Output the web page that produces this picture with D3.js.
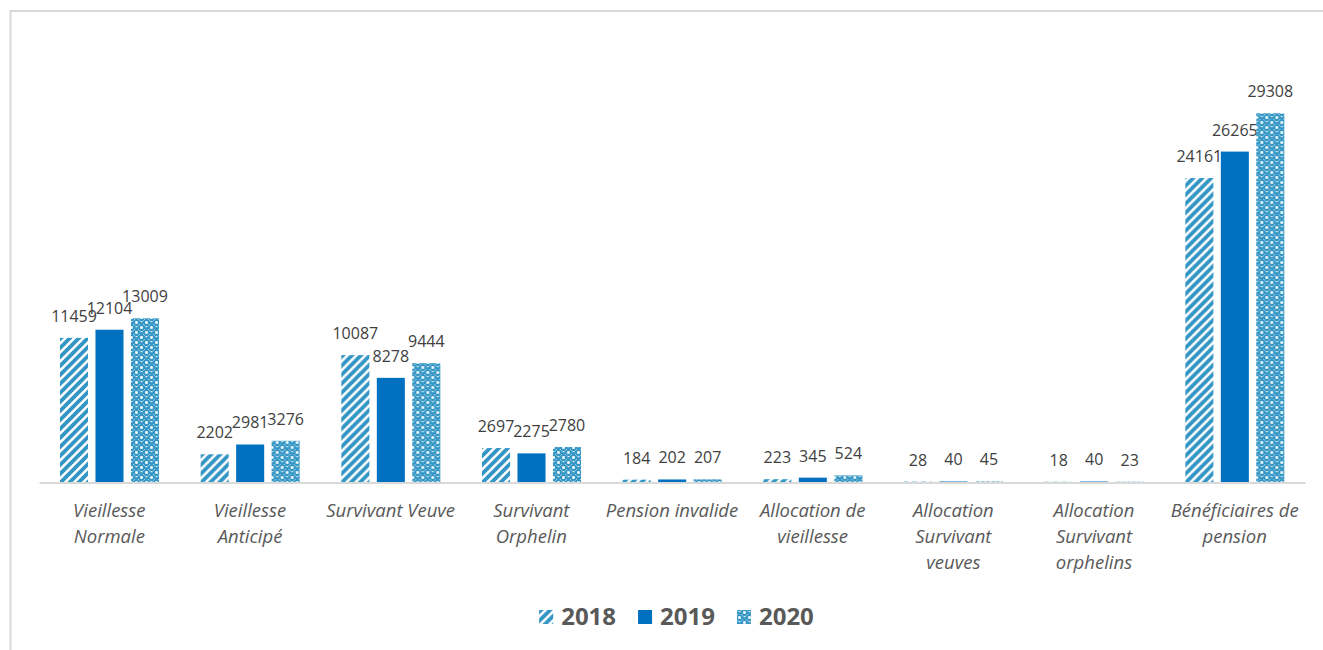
<!DOCTYPE html>
<html><head><meta charset="utf-8">
<script src="https://cdn.jsdelivr.net/npm/d3@7"></script>
<style>body{margin:0;background:#fff;} svg{display:block;font-family:"Open Sans",sans-serif;}</style>
</head><body><svg id="c" width="1323" height="650"></svg>
<script>
const categories = ["Vieillesse Normale","Vieillesse Anticipé","Survivant Veuve","Survivant Orphelin","Pension invalide","Allocation de vieillesse","Allocation Survivant veuves","Allocation Survivant orphelins","Bénéficiaires de pension"];
const tickLabels = [["Vieillesse","Normale"],["Vieillesse","Anticipé"],["Survivant Veuve"],["Survivant","Orphelin"],["Pension invalide"],["Allocation de","vieillesse"],["Allocation","Survivant","veuves"],["Allocation","Survivant","orphelins"],["Bénéficiaires de","pension"]];
const years = ["2018","2019","2020"];
const values2018 = [11459,2202,10087,2697,184,223,28,18,24161];
const values2019 = [12104,2981,8278,2275,202,345,40,40,26265];
const values2020 = [13009,3276,9444,2780,207,524,45,23,29308];
const seriesValues = [values2018, values2019, values2020];

const svg = d3.select("#c");
const defs = svg.append("defs");
const blue = "#0070C0", pblue = "#3396C5";

// 2018 stripe pattern
const p1 = defs.append("pattern").attr("id","p2018").attr("patternUnits","userSpaceOnUse").attr("width",9).attr("height",9);
p1.append("rect").attr("width",9).attr("height",9).attr("fill","#fff");
p1.append("path").attr("d","M-2,11 L11,-2 M-2,2 L2,-2 M7,11 L11,7").attr("stroke",pblue).attr("stroke-width",3.8);
// 2020 sphere-like pattern
const p3 = defs.append("pattern").attr("id","p2020").attr("patternUnits","userSpaceOnUse").attr("width",10).attr("height",10);
p3.append("rect").attr("width",10).attr("height",10).attr("fill","#fff");
[[0,0],[5,5]].forEach(([a,b])=>{
  p3.append("rect").attr("x",a).attr("y",b).attr("width",5).attr("height",5).attr("rx",1.4).attr("fill",pblue);
  p3.append("rect").attr("x",a+1.5).attr("y",b+1.2).attr("width",2).attr("height",1).attr("fill","#fff");
});
[[5,0],[0,5]].forEach(([a,b])=>{
  p3.append("rect").attr("x",a+0.6).attr("y",b+0.6).attr("width",3.8).attr("height",3.8).attr("fill","none").attr("stroke",pblue).attr("stroke-width",1.2);
});
const fills = ["url(#p2018)", blue, "url(#p2020)"];

// frame
svg.append("rect").attr("x",10.5).attr("y",11).attr("width",1400).attr("height",700)
  .attr("fill","none").attr("stroke","#d9d9d9").attr("stroke-width",2);

const x = d3.scaleBand().domain(categories).range([39,1305]).padding(0);
const xs = d3.scaleBand().domain(years).range([21,120]).paddingInner(0.21).paddingOuter(0);
const y = d3.scaleLinear().domain([0,35000]).range([482,41.7]);

const groups = svg.append("g").selectAll("g").data(categories).join("g")
  .attr("transform", d=>`translate(${x(d)},0)`);

groups.each(function(cat, i){
  const g = d3.select(this);
  years.forEach((yr, k)=>{
    const v = seriesValues[k][i];
    g.append("rect").attr("x", xs(yr)).attr("width", xs.bandwidth())
      .attr("y", y(v)).attr("height", y(0)-y(v)).attr("fill", fills[k]);
    g.append("text").attr("x", xs(yr)+xs.bandwidth()/2).attr("y", y(v)-16)
      .attr("text-anchor","middle").attr("font-size",16).attr("fill","#404040").text(v);
  });
});

// baseline axis
const ax = svg.append("g").attr("transform","translate(0,482.5)")
  .call(d3.axisBottom(x).tickSize(0).tickFormat(""));
ax.select(".domain").attr("stroke","#d9d9d9").attr("stroke-width",2);

// category labels
svg.append("g").selectAll("text").data(categories).join("text")
  .attr("x", d=>x(d)+x.bandwidth()/2).attr("y",517)
  .attr("text-anchor","middle").attr("font-style","italic").attr("font-size",18.5).attr("fill","#595959")
  .each(function(d,i){
    const t = d3.select(this);
    tickLabels[i].forEach((ln,j)=>{
      t.append("tspan").attr("x", x(d)+x.bandwidth()/2).attr("dy", j===0?0:26).text(ln);
    });
  });

// legend
const lg = svg.append("g");
let cx = 0;
years.forEach((yr,k)=>{
  const it = lg.append("g").attr("transform",`translate(${cx},0)`);
  it.append("rect").attr("x",0).attr("y",610).attr("width",14).attr("height",14).attr("fill",fills[k]);
  const t = it.append("text").attr("x",22).attr("y",625).attr("font-size",24).attr("font-weight","bold").attr("fill","#595959").text(yr);
  cx += 22 + t.node().getComputedTextLength() + 22;
});
const lw = cx - 22;
lg.attr("transform",`translate(${676.5 - lw/2},0)`);
</script></body></html>
